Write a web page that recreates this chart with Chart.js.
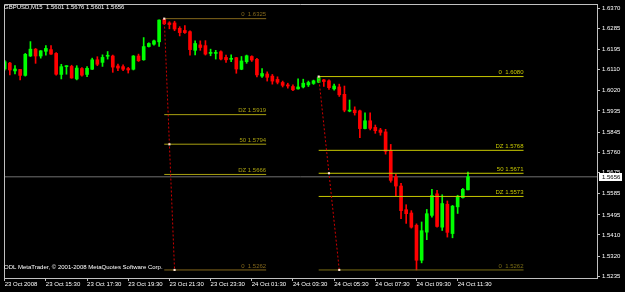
<!DOCTYPE html>
<html>
<head>
<meta charset="utf-8">
<script src="https://cdn.jsdelivr.net/npm/chart.js@4.4.0/dist/chart.umd.min.js"></script>
<style>
  html, body { margin: 0; padding: 0; background: #000; }
</style>
</head>
<body>
<canvas id="chart" width="625" height="292"></canvas>
<script>
// GBPUSD M15, one bar every 15 minutes from 23 Oct 2008 13:30 to 24 Oct 2008 12:00
var opens = [1.6112, 1.6137, 1.6104, 1.6110, 1.6085, 1.6167, 1.6196, 1.6167, 1.6187, 1.6194,
  1.6178, 1.6089, 1.6122, 1.6123, 1.6070, 1.6114, 1.6089, 1.6111, 1.6151, 1.6140,
  1.6166, 1.6167, 1.6125, 1.6122, 1.6114, 1.6111, 1.6167, 1.6151, 1.6207, 1.6217,
  1.6227, 1.6322, 1.6307, 1.6307, 1.6284, 1.6275, 1.6270, 1.6191, 1.6214, 1.6211,
  1.6178, 1.6178, 1.6185, 1.6161, 1.6153, 1.6160, 1.6111, 1.6143, 1.6165, 1.6153,
  1.6082, 1.6091, 1.6082, 1.6068, 1.6055, 1.6045, 1.6038, 1.6028, 1.6036, 1.6045,
  1.6051, 1.6056, 1.6066, 1.6062, 1.6028, 1.6036, 1.6005, 1.5934, 1.5938, 1.5935,
  1.5860, 1.5893, 1.5865, 1.5854, 1.5846, 1.5767, 1.5656, 1.5617, 1.5517, 1.5503,
  1.5451, 1.5303, 1.5422, 1.5493, 1.5584, 1.5443, 1.5540, 1.5416, 1.5529, 1.5568,
  1.5601];
var highs = [1.6149, 1.6140, 1.6126, 1.6111, 1.6178, 1.6228, 1.6199, 1.6190, 1.6211, 1.6211,
  1.6182, 1.6132, 1.6126, 1.6128, 1.6126, 1.6118, 1.6122, 1.6158, 1.6164, 1.6172,
  1.6186, 1.6171, 1.6133, 1.6130, 1.6119, 1.6169, 1.6175, 1.6245, 1.6223, 1.6234,
  1.6320, 1.6325, 1.6312, 1.6314, 1.6291, 1.6296, 1.6274, 1.6231, 1.6231, 1.6232,
  1.6196, 1.6191, 1.6189, 1.6171, 1.6172, 1.6161, 1.6165, 1.6171, 1.6168, 1.6157,
  1.6114, 1.6100, 1.6089, 1.6079, 1.6061, 1.6052, 1.6045, 1.6070, 1.6069, 1.6061,
  1.6065, 1.6080, 1.6068, 1.6066, 1.6048, 1.6048, 1.6040, 1.5981, 1.5952, 1.5938,
  1.5927, 1.5927, 1.5875, 1.5861, 1.5857, 1.5793, 1.5666, 1.5628, 1.5538, 1.5513,
  1.5457, 1.5465, 1.5518, 1.5603, 1.5599, 1.5580, 1.5554, 1.5535, 1.5578, 1.5607,
  1.5676];
var lows = [1.6107, 1.6087, 1.6091, 1.6066, 1.6082, 1.6165, 1.6136, 1.6158, 1.6171, 1.6174,
  1.6086, 1.6070, 1.6090, 1.6073, 1.6066, 1.6082, 1.6080, 1.6110, 1.6126, 1.6123,
  1.6154, 1.6098, 1.6105, 1.6105, 1.6095, 1.6108, 1.6144, 1.6149, 1.6205, 1.6213,
  1.6208, 1.6300, 1.6282, 1.6274, 1.6252, 1.6263, 1.6171, 1.6172, 1.6191, 1.6171,
  1.6168, 1.6154, 1.6150, 1.6140, 1.6143, 1.6094, 1.6109, 1.6136, 1.6144, 1.6079,
  1.6076, 1.6061, 1.6048, 1.6049, 1.6036, 1.6031, 1.6020, 1.6027, 1.6032, 1.6038,
  1.6047, 1.6054, 1.6038, 1.6026, 1.6023, 1.5996, 1.5931, 1.5931, 1.5917, 1.5822,
  1.5859, 1.5854, 1.5840, 1.5832, 1.5752, 1.5633, 1.5575, 1.5479, 1.5459, 1.5439,
  1.5262, 1.5292, 1.5390, 1.5485, 1.5443, 1.5429, 1.5401, 1.5398, 1.5501, 1.5566,
  1.5601];
var closes = [1.6143, 1.6108, 1.6112, 1.6085, 1.6174, 1.6196, 1.6167, 1.6189, 1.6199, 1.6175,
  1.6090, 1.6122, 1.6124, 1.6074, 1.6116, 1.6086, 1.6115, 1.6151, 1.6132, 1.6161,
  1.6168, 1.6120, 1.6116, 1.6111, 1.6108, 1.6167, 1.6147, 1.6207, 1.6220, 1.6231,
  1.6319, 1.6303, 1.6300, 1.6281, 1.6266, 1.6266, 1.6194, 1.6220, 1.6203, 1.6175,
  1.6180, 1.6180, 1.6154, 1.6151, 1.6155, 1.6112, 1.6146, 1.6168, 1.6150, 1.6087,
  1.6093, 1.6077, 1.6061, 1.6056, 1.6043, 1.6040, 1.6024, 1.6036, 1.6052, 1.6055,
  1.6062, 1.6076, 1.6059, 1.6033, 1.6040, 1.6003, 1.5938, 1.5938, 1.5927, 1.5860,
  1.5893, 1.5861, 1.5851, 1.5844, 1.5764, 1.5641, 1.5617, 1.5513, 1.5500, 1.5443,
  1.5303, 1.5428, 1.5500, 1.5577, 1.5446, 1.5543, 1.5421, 1.5532, 1.5574, 1.5603,
  1.5656];

var timeTicks = [0, 8, 16, 24, 32, 40, 48, 56, 64, 72, 80, 88];
var timeLabels = ['23 Oct 2008', '23 Oct 15:30', '23 Oct 17:30', '23 Oct 19:30', '23 Oct 21:30',
  '23 Oct 23:30', '24 Oct 01:30', '24 Oct 03:30', '24 Oct 05:30', '24 Oct 07:30',
  '24 Oct 09:30', '24 Oct 11:30'];
var priceTicks = [1.6370, 1.6285, 1.6195, 1.6110, 1.6020, 1.5935, 1.5845, 1.5760, 1.5675,
  1.5585, 1.5495, 1.5410, 1.5320, 1.5235];

// two fibonacci objects: anchors [bar, price], levels and names
var fibA_anchors = [[31, 1.6325], [33, 1.5262]];
var fibA_end = 50.8;
var fibA_levels = [1.6325, 1.5919, 1.5794, 1.5666, 1.5262];
var fibA_names = ['0 ', 'DZ', '50', 'DZ', '0 '];
var fibB_anchors = [[61, 1.6080], [65, 1.5262]];
var fibB_end = 100.8;
var fibB_levels = [1.6080, 1.5768, 1.5671, 1.5573, 1.5262];
var fibB_names = ['0 ', 'DZ', '50', 'DZ', '0 '];

var FONT = 'Liberation Sans';
var UP = '#00ff00', DOWN = '#ff0000';
var fibA_colors = ['#84681c', '#a8a010', '#a8a010', '#a8a010', '#84681c'];
var fibB_colors = ['#c8c800', '#c8c800', '#c8c800', '#c8c800', '#7a6c14'];

var xMin = -0.135, xMax = 115.07;
var last = closes.length - 1;

var barColors = closes.map(function (c, i) { return c >= opens[i] ? UP : DOWN; });
var bodies = opens.map(function (o, i) { return { x: i, y: [o, closes[i]] }; });
var wicks = lows.map(function (l, i) { return { x: i, y: [l, highs[i]] }; });

var datasets = [];
datasets.push({
  type: 'bar', data: bodies, backgroundColor: barColors, barThickness: 3,
  minBarLength: 1, grouped: false, borderWidth: 0, order: 2
});
datasets.push({
  type: 'bar', data: wicks, backgroundColor: barColors, barThickness: 1,
  grouped: false, borderWidth: 0, order: 3
});

function addFib(anchors, end, levels, colors) {
  levels.forEach(function (lv, k) {
    datasets.push({
      type: 'line', data: [{ x: anchors[0][0], y: lv }, { x: end, y: lv }],
      borderColor: colors[k], borderWidth: 1, pointRadius: 0, order: 1
    });
  });
  var a = anchors[0], b = anchors[1];
  datasets.push({
    type: 'line',
    data: [{ x: a[0], y: a[1] }, { x: (a[0] + b[0]) / 2, y: (a[1] + b[1]) / 2 }, { x: b[0], y: b[1] }],
    borderColor: '#d00000', borderWidth: 1, borderDash: [2, 2],
    pointStyle: 'rect', pointRadius: 1.5, pointBackgroundColor: '#ffe8d8', pointBorderWidth: 0,
    order: 0
  });
}
addFib(fibA_anchors, fibA_end, fibA_levels, fibA_colors);
addFib(fibB_anchors, fibB_end, fibB_levels, fibB_colors);

// bid line
datasets.push({
  type: 'line', data: [{ x: xMin, y: closes[last] }, { x: xMax, y: closes[last] }],
  borderColor: '#707070', borderWidth: 1, pointRadius: 0, order: 5
});

var overlay = {
  id: 'overlay',
  beforeDraw: function (chart) {
    var ctx = chart.ctx;
    ctx.save();
    ctx.fillStyle = '#000';
    ctx.fillRect(0, 0, chart.width, chart.height);
    ctx.restore();
  },
  afterDatasetsDraw: function (chart) {
    var ctx = chart.ctx, xs = chart.scales.x, ys = chart.scales.y, a = chart.chartArea;
    ctx.save();
    ctx.font = '6px "' + FONT + '"';
    ctx.textAlign = 'right';
    ctx.textBaseline = 'bottom';
    fibA_levels.forEach(function (lv, k) {
      ctx.fillStyle = fibA_colors[k];
      ctx.fillText(fibA_names[k] + ' ' + lv.toFixed(4), xs.getPixelForValue(fibA_end), ys.getPixelForValue(lv) - 1);
    });
    fibB_levels.forEach(function (lv, k) {
      ctx.fillStyle = fibB_colors[k];
      ctx.fillText(fibB_names[k] + ' ' + lv.toFixed(4), xs.getPixelForValue(fibB_end), ys.getPixelForValue(lv) - 1);
    });

    // frame top and left
    ctx.strokeStyle = '#c0c0c0';
    ctx.lineWidth = 1;
    ctx.beginPath();
    ctx.moveTo(a.left + 0.5, a.bottom);
    ctx.lineTo(a.left + 0.5, a.top + 0.5);
    ctx.lineTo(a.right, a.top + 0.5);
    ctx.stroke();

    ctx.textAlign = 'left';
    ctx.textBaseline = 'middle';
    ctx.fillStyle = '#ffffff';
    var ohlc = [opens[last], highs[last], lows[last], closes[last]].map(function (v) { return v.toFixed(4); });
    ctx.fillText('GBPUSD,M15  ' + ohlc.join(' '), 4, 7);
    ctx.fillText('ODL MetaTrader, \u00a9 2001-2008 MetaQuotes Software Corp.', 4, 267);
    ctx.restore();
  },
  afterDraw: function (chart) {
    var ctx = chart.ctx, ys = chart.scales.y, a = chart.chartArea;
    var y = Math.round(ys.getPixelForValue(closes[last]));
    ctx.save();
    ctx.fillStyle = '#ffffff';
    ctx.fillRect(a.right + 2, y - 4, 23, 8);
    ctx.fillStyle = '#000000';
    ctx.font = '6px "' + FONT + '"';
    ctx.textAlign = 'left';
    ctx.textBaseline = 'middle';
    ctx.fillText(closes[last].toFixed(4), a.right + 5, y);
    ctx.restore();
  }
};

var ctx = document.getElementById('chart').getContext('2d');
var myChart = new Chart(ctx, {
  type: 'bar',
  data: { datasets: datasets },
  plugins: [overlay],
  options: {
    responsive: false,
    animation: false,
    devicePixelRatio: 1,
    layout: { padding: { left: 1, top: 1, right: 0, bottom: 0 } },
    plugins: { legend: { display: false }, tooltip: { enabled: false } },
    scales: {
      x: {
        type: 'linear',
        min: xMin,
        max: xMax,
        offset: false,
        afterBuildTicks: function (s) { s.ticks = timeTicks.map(function (v) { return { value: v }; }); },
        afterFit: function (s) { s.height = 14; s.paddingLeft = 0; s.paddingRight = 0; },
        grid: { offset: false, drawOnChartArea: false, drawTicks: true, tickLength: 3, color: '#c0c0c0' },
        border: { color: '#c0c0c0' },
        ticks: {
          autoSkip: false, maxRotation: 0, minRotation: 0, align: 'start', padding: 0,
          color: '#ffffff', font: { family: FONT, size: 6 },
          callback: function (v, i) { return timeLabels[i]; }
        }
      },
      y: {
        type: 'linear',
        position: 'right',
        min: 1.5228,
        max: 1.6387,
        beginAtZero: false,
        afterBuildTicks: function (s) { s.ticks = priceTicks.map(function (v) { return { value: v }; }); },
        afterFit: function (s) { s.width = 28; s.paddingTop = 0; s.paddingBottom = 0; },
        grid: { drawOnChartArea: false, drawTicks: true, tickLength: 3, color: '#c0c0c0' },
        border: { color: '#c0c0c0' },
        ticks: {
          padding: 2, color: '#ffffff', font: { family: FONT, size: 6 },
          callback: function (v) { return v.toFixed(4); }
        }
      }
    }
  }
});
</script>
</body>
</html>
